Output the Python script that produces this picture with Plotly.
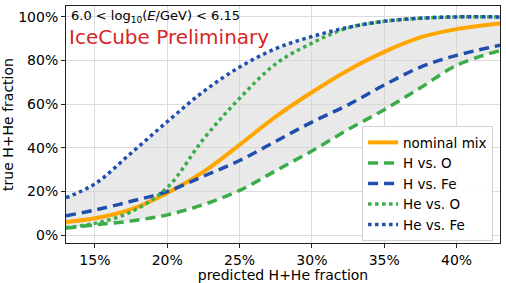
import plotly.graph_objects as go

pred = [0.13, 0.15, 0.175, 0.20, 0.225, 0.25, 0.275, 0.30, 0.325, 0.35, 0.375, 0.40, 0.43]
nominal = [0.060, 0.077, 0.118, 0.193, 0.290, 0.414, 0.543, 0.655, 0.756, 0.840, 0.906, 0.944, 0.970]
h_vs_o = [0.032, 0.047, 0.065, 0.093, 0.140, 0.205, 0.295, 0.386, 0.484, 0.575, 0.675, 0.778, 0.846]
h_vs_fe = [0.089, 0.115, 0.155, 0.200, 0.270, 0.342, 0.430, 0.518, 0.597, 0.688, 0.770, 0.824, 0.870]
he_vs_o = [0.035, 0.054, 0.107, 0.218, 0.440, 0.627, 0.785, 0.880, 0.950, 0.980, 0.994, 1.000, 1.000]
he_vs_fe = [0.172, 0.235, 0.376, 0.520, 0.658, 0.770, 0.855, 0.910, 0.952, 0.980, 0.994, 1.000, 1.000]

series = [nominal, h_vs_o, h_vs_fe, he_vs_o, he_vs_fe]
upper = [max(v) for v in zip(*series)]
lower = [min(v) for v in zip(*series)]

ORANGE = "#FFA500"
GREEN = "#3aad48"
BLUE = "#1f4fae"
FONT = "DejaVu Sans"

fig = go.Figure()
fig.add_trace(go.Scatter(x=pred, y=lower, mode="lines", line=dict(width=0, shape="spline"),
                         showlegend=False, hoverinfo="skip"))
fig.add_trace(go.Scatter(x=pred, y=upper, mode="lines", line=dict(width=0, shape="spline"),
                         fill="tonexty", fillcolor="rgba(211,211,211,0.5)",
                         showlegend=False, hoverinfo="skip"))

fig.add_trace(go.Scatter(x=pred, y=nominal, mode="lines", name="nominal mix",
                         line=dict(color=ORANGE, width=4, shape="spline")))
fig.add_trace(go.Scatter(x=pred, y=h_vs_o, mode="lines", name="H vs. O",
                         line=dict(color=GREEN, width=3.5, dash="10px,6px", shape="spline")))
fig.add_trace(go.Scatter(x=pred, y=h_vs_fe, mode="lines", name="H vs. Fe",
                         line=dict(color=BLUE, width=3.5, dash="10px,6px", shape="spline")))
fig.add_trace(go.Scatter(x=pred, y=he_vs_o, mode="lines", name="He vs. O",
                         line=dict(color=GREEN, width=3.5, dash="3.5px,3.5px", shape="spline")))
fig.add_trace(go.Scatter(x=pred, y=he_vs_fe, mode="lines", name="He vs. Fe",
                         line=dict(color=BLUE, width=3.5, dash="3.5px,3.5px", shape="spline")))

axis_common = dict(showline=True, linecolor="#222", linewidth=1, mirror=True,
                   ticks="outside", ticklen=4, tickcolor="#222",
                   showgrid=True, gridcolor="#dcdcdc", gridwidth=1, zeroline=False,
                   tickfont=dict(family=FONT, size=14, color="black"),
                   tickformat=".0%")

fig.update_xaxes(range=[0.13, 0.43], tickvals=[0.15, 0.20, 0.25, 0.30, 0.35, 0.40],
                 title=dict(text="predicted H+He fraction", font=dict(family=FONT, size=14, color="black"),
                            standoff=0),
                 **axis_common)
fig.update_yaxes(range=[-0.036, 1.05], tickvals=[0, 0.2, 0.4, 0.6, 0.8, 1.0],
                 title=dict(text="true H+He fraction", font=dict(family=FONT, size=14, color="black"),
                            standoff=3),
                 **axis_common)

fig.add_annotation(x=0.006, y=0.998, xref="paper", yref="paper", xanchor="left", yanchor="top",
                   text="6.0 < log<sub>10</sub>(<i>E</i>/GeV) < 6.15", showarrow=False,
                   font=dict(family=FONT, size=13, color="black"))
fig.add_annotation(x=0.002, y=0.93, xref="paper", yref="paper", xanchor="left", yanchor="top",
                   text="IceCube Preliminary", showarrow=False,
                   font=dict(family=FONT, size=20, color="#d62728"))

fig.update_layout(
    width=506, height=283,
    margin=dict(l=63, r=5, t=5, b=38),
    plot_bgcolor="white", paper_bgcolor="white",
    font=dict(family=FONT, size=13, color="black"),
    legend=dict(x=0.984, y=0.008, xanchor="right", yanchor="bottom", traceorder="normal",
                bgcolor="rgba(255,255,255,0.9)", bordercolor="#d0d0d0", borderwidth=1,
                font=dict(family=FONT, size=13.5), tracegroupgap=0, itemwidth=30),
)

fig.write_html("out.html", config={"displayModeBar": False},
               post_script="document.body.style.margin='0';document.body.style.padding='0';document.body.style.overflow='hidden';")
